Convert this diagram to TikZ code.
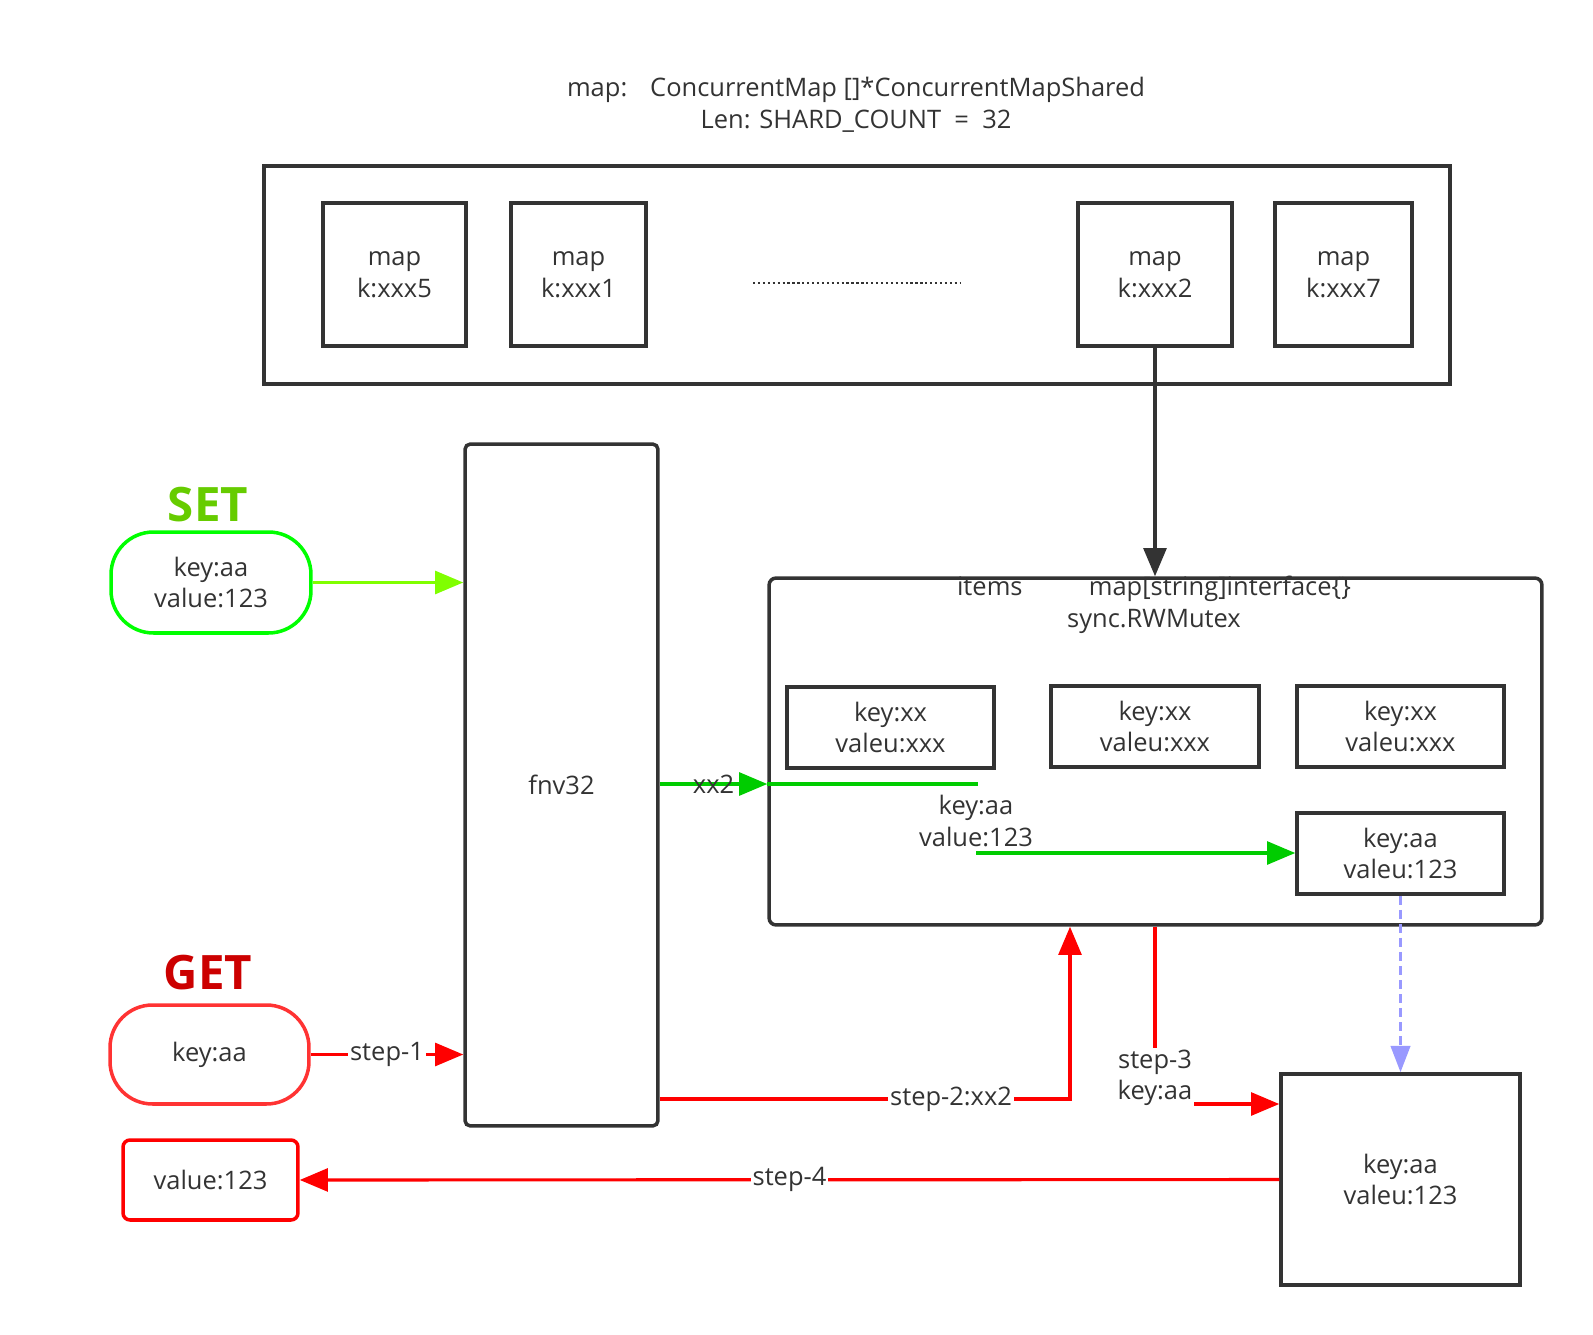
\documentclass[tikz,border=0pt]{standalone}
\usepackage{fontspec}
\setmainfont{Open Sans}
\usetikzlibrary{arrows.meta,positioning}
\definecolor{ink}{HTML}{333333}
\definecolor{setgreen}{HTML}{66CC00}
\definecolor{pillgreen}{HTML}{00FF00}
\definecolor{lime}{HTML}{80FF00}
\definecolor{flowgreen}{HTML}{00CC00}
\definecolor{getred}{HTML}{CC0000}
\definecolor{pillred}{HTML}{FF3333}
\definecolor{flowred}{HTML}{FF0000}
\definecolor{lookup}{HTML}{9999FF}
\tikzset{
  box/.style={draw=ink, line width=2pt, align=center, inner sep=0pt},
  pill/.style={box, rounded corners=0.85cm},
  wire/.style={line width=1.8pt},
  lbl/.style={fill=white, text=ink, inner sep=1pt, align=center},
  tag/.style={font=\fontsize{27}{30}\selectfont\bfseries},
}
\begin{document}
\begin{tikzpicture}[x=0.02cm,y=-0.02cm, font=\fontsize{14.5}{18}\selectfont, text=ink,
  >={Triangle[length=16pt,width=13pt]}]
  \useasboundingbox (0,0) rectangle (1593,1335);
  % titolo
  \node[align=center] (title) at (856,105)
    {map:\hspace{0.9em}ConcurrentMap []*ConcurrentMapShared\\Len: SHARD\_COUNT\ \ =\ \ 32};
  % shards
  \draw[line width=2pt, draw=ink] (264,166) rectangle (1450,384);
  \node[box, minimum width=2.86cm, minimum height=2.86cm] (map5) at (394.5,274.5) {map\\k:xxx5};
  \node[box, minimum width=2.70cm, minimum height=2.86cm] (map1) at (578.5,274.5) {map\\k:xxx1};
  \node[box, minimum width=3.08cm, minimum height=2.86cm] (map2) at (1155,274.5) {map\\k:xxx2};
  \node[box, minimum width=2.74cm, minimum height=2.86cm] (map7) at (1343.5,274.5) {map\\k:xxx7};
  \draw[ink, line width=1.3pt, dash pattern=on 1.3pt off 1.5pt] (753,283) -- (961,283);
  % hash
  \node[box, rounded corners=3pt, minimum width=3.86cm, minimum height=13.64cm] (fnv) at (561.5,785) {fnv32};
  % SET
  \node[tag, text=setgreen] (settag) at (208,505) {SET};
  \node[pill, draw=pillgreen, minimum width=4cm, minimum height=2.02cm] (setkv) at (211,582.5) {key:aa\\value:123};
  \draw[wire, lime, ->] (setkv) -- (setkv -| fnv.west);
  % shard interno
  \node[box, rounded corners=4pt, minimum width=15.46cm, minimum height=6.94cm] (items) at (1155.5,751.5) {};
  \node[align=center] (itemstitle) at (1154,605) {items\hspace{2.6em}map[string]interface\{\}\\sync.RWMutex};
  \node[box, minimum width=4.14cm, minimum height=1.62cm] (kv1) at (890.5,727.5) {key:xx\\valeu:xxx};
  \node[box, minimum width=4.16cm, minimum height=1.62cm] (kv2) at (1155,726.5) {key:xx\\valeu:xxx};
  \node[box, minimum width=4.14cm, minimum height=1.62cm] (kv3) at (1400.5,726.5) {key:xx\\valeu:xxx};
  \node[box, minimum width=4.14cm, minimum height=1.62cm] (kv4) at (1400.5,853.5) {key:aa\\valeu:123};
  \node[align=center] (newkv) at (976,821) {key:aa\\value:123};
  \draw[wire, ink, ->] (map2) -- (map2 |- items.north);
  \coordinate (gend) at (978,784);
  \coordinate (gstart) at (976,853);
  \draw[wire, flowgreen, ->] (fnv.east |- gend) -- node[text=ink, inner sep=1pt] {xx2} (fnv.east |- gend -| items.west);
  \draw[wire, flowgreen] (gend -| items.west) -- (gend);
  \draw[wire, flowgreen, ->] (gstart) -- (gstart -| kv4.west);
  % GET
  \node[tag, text=getred] (gettag) at (208,973) {GET};
  \node[pill, draw=pillred, minimum width=3.98cm, minimum height=1.98cm] (getk) at (209.5,1054.5) {key:aa};
  \node[box, draw=flowred, rounded corners=4pt, minimum width=3.5cm, minimum height=1.6cm] (result) at (210.5,1180) {value:123};
  \node[box, minimum width=4.78cm, minimum height=4.22cm] (found) at (1400.5,1179.5) {key:aa\\valeu:123};
  \draw[wire, flowred, ->] (getk) -- node[lbl] {step-1} (getk -| fnv.west);
  \coordinate (s2turn) at (1070,1099);
  \draw[wire, flowred, ->] (fnv.east |- s2turn) -- node[lbl, pos=0.71] {step-2:xx2} (s2turn) -- (s2turn |- items.south);
  \node[lbl] (s3) at (1155,1078) {step-3\\key:aa};
  \coordinate (s3end) at (1194,1104);
  \draw[wire, flowred] (items.south -| s3) -- (s3.north);
  \draw[wire, flowred, ->] (s3end) -- (s3end -| found.west);
  \draw[wire, flowred, ->] (found) -- node[lbl] {step-4} (result);
  \draw[wire, lookup, dash pattern=on 5pt off 3pt, ->, >={Triangle[length=15pt,width=11pt]}] (kv4) -- (found);
\end{tikzpicture}
\end{document}
